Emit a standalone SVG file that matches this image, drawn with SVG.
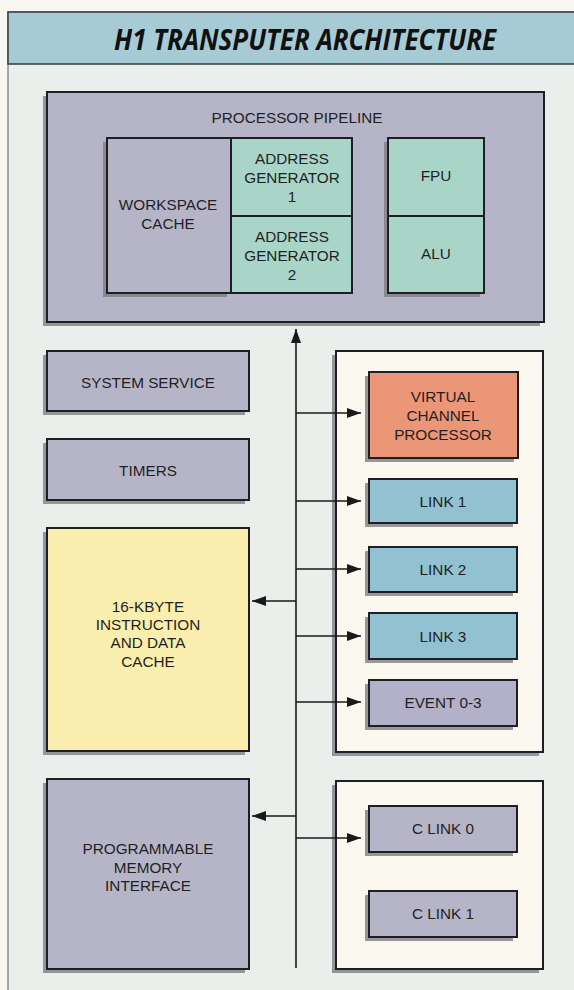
<svg xmlns="http://www.w3.org/2000/svg" width="574" height="990" viewBox="0 0 574 990">
<defs>
<marker id="ah" viewBox="0 0 14 10" refX="14" refY="5" markerWidth="14" markerHeight="10" markerUnits="userSpaceOnUse" orient="auto">
<path d="M0,0 L14,5 L0,10 Z" fill="#1a1a1a"/>
</marker>
</defs>
<style>
.box{stroke:#1e1e24;stroke-width:2}
.sh{fill:#7e7e84;opacity:0.8}
.grey{fill:#b6b5c8}
.mint{fill:#a9d5c9}
.blue{fill:#92c1d1}
.salmon{fill:#eb9677}
.yellow{fill:#f9eead}
.cream{fill:#fbf8ef}
.lav{fill:#b3b0c9}
.t{font-family:"Liberation Sans",Arial,sans-serif;font-size:15.3px;fill:#1f1f24;text-anchor:middle}
.c{stroke:#1a1a1a;stroke-width:1.3;fill:none}
</style>
<rect x="0" y="0" width="574" height="990" fill="#f8f7f2"/>
<rect x="8" y="12" width="570" height="990" fill="#eaefec" stroke="#5a5a5a" stroke-width="1"/>
<g id="header">
<rect x="8" y="12" width="570" height="52" fill="#a7cbd5" stroke="#3a3a40" stroke-width="1.5"/>
<text x="305" y="50" font-family="'Open Sans','DejaVu Sans',sans-serif" font-size="28" font-weight="bold" font-style="italic" fill="#111" text-anchor="middle" textLength="382" lengthAdjust="spacingAndGlyphs">H1 TRANSPUTER ARCHITECTURE</text>
</g>
<g id="pipeline">
<rect class="sh" x="43" y="96" width="497" height="230"/>
<rect class="box grey" x="47" y="92" width="497" height="230"/>
<text class="t" x="297" y="123">PROCESSOR PIPELINE</text>
</g>
<g id="workspace-cache">
<rect class="sh" x="103" y="142" width="124" height="155"/>
<rect class="box grey" x="107" y="138" width="124" height="155"/>
<text class="t" x="168" y="210">WORKSPACE</text>
<text class="t" x="168" y="229">CACHE</text>
</g>
<g id="addr-gen-1">
<rect class="box mint" x="231" y="138" width="121" height="78"/>
<text class="t" x="292" y="164">ADDRESS</text>
<text class="t" x="292" y="183">GENERATOR</text>
<text class="t" x="292" y="202">1</text>
</g>
<g id="addr-gen-2">
<rect class="box mint" x="231" y="216" width="121" height="77"/>
<text class="t" x="292" y="242">ADDRESS</text>
<text class="t" x="292" y="261">GENERATOR</text>
<text class="t" x="292" y="280">2</text>
</g>
<g id="fpu">
<rect class="sh" x="384" y="142" width="96" height="155"/>
<rect class="box mint" x="388" y="138" width="96" height="78"/>
<text class="t" x="436" y="181">FPU</text>
</g>
<g id="alu">
<rect class="box mint" x="388" y="216" width="96" height="77"/>
<text class="t" x="436" y="259">ALU</text>
</g>
<g id="system-service">
<rect class="sh" x="43" y="355" width="202" height="60"/>
<rect class="box grey" x="47" y="351" width="202" height="60"/>
<text class="t" x="148" y="388">SYSTEM SERVICE</text>
</g>
<g id="timers">
<rect class="sh" x="43" y="443" width="202" height="61"/>
<rect class="box grey" x="47" y="439" width="202" height="61"/>
<text class="t" x="148" y="476">TIMERS</text>
</g>
<g id="cache">
<rect class="sh" x="43" y="532" width="202" height="223"/>
<rect class="box yellow" x="47" y="528" width="202" height="223"/>
<text class="t" x="148" y="612">16-KBYTE</text>
<text class="t" x="148" y="630">INSTRUCTION</text>
<text class="t" x="148" y="648">AND DATA</text>
<text class="t" x="148" y="667">CACHE</text>
</g>
<g id="pmi">
<rect class="sh" x="43" y="783" width="202" height="190"/>
<rect class="box grey" x="47" y="779" width="202" height="190"/>
<text class="t" x="148" y="854">PROGRAMMABLE</text>
<text class="t" x="148" y="873">MEMORY</text>
<text class="t" x="148" y="891">INTERFACE</text>
</g>
<g id="link-container">
<rect class="sh" x="332" y="355" width="207" height="401"/>
<rect class="box cream" x="336" y="351" width="207" height="401"/>
</g>
<g id="vcp">
<rect class="sh" x="365" y="376" width="149" height="86"/>
<rect class="box salmon" x="369" y="372" width="149" height="86"/>
<text class="t" x="443" y="402">VIRTUAL</text>
<text class="t" x="443" y="421">CHANNEL</text>
<text class="t" x="443" y="440">PROCESSOR</text>
</g>
<g id="link1">
<rect class="sh" x="365" y="483" width="148" height="44"/>
<rect class="box blue" x="369" y="479" width="148" height="44"/>
<text class="t" x="443" y="507">LINK 1</text>
</g>
<g id="link2">
<rect class="sh" x="365" y="551" width="148" height="45"/>
<rect class="box blue" x="369" y="547" width="148" height="45"/>
<text class="t" x="443" y="575">LINK 2</text>
</g>
<g id="link3">
<rect class="sh" x="365" y="617" width="148" height="46"/>
<rect class="box blue" x="369" y="613" width="148" height="46"/>
<text class="t" x="443" y="642">LINK 3</text>
</g>
<g id="event">
<rect class="sh" x="365" y="684" width="148" height="46"/>
<rect class="box lav" x="369" y="680" width="148" height="46"/>
<text class="t" x="443" y="708">EVENT 0-3</text>
</g>
<g id="clink-container">
<rect class="sh" x="332" y="785" width="207" height="188"/>
<rect class="box cream" x="336" y="781" width="207" height="188"/>
</g>
<g id="clink0">
<rect class="sh" x="365" y="810" width="148" height="46"/>
<rect class="box grey" x="369" y="806" width="148" height="46"/>
<text class="t" x="443" y="834">C LINK 0</text>
</g>
<g id="clink1">
<rect class="sh" x="365" y="895" width="148" height="46"/>
<rect class="box grey" x="369" y="891" width="148" height="46"/>
<text class="t" x="443" y="919">C LINK 1</text>
</g>
<g id="connectors">
<line class="c" x1="296" y1="968" x2="296" y2="329" marker-end="url(#ah)" style="stroke-width:1.6"/>
<line class="c" x1="296" y1="413" x2="361" y2="413" marker-end="url(#ah)"/>
<line class="c" x1="296" y1="501" x2="361" y2="501" marker-end="url(#ah)"/>
<line class="c" x1="296" y1="569" x2="361" y2="569" marker-end="url(#ah)"/>
<line class="c" x1="296" y1="636" x2="361" y2="636" marker-end="url(#ah)"/>
<line class="c" x1="296" y1="702" x2="361" y2="702" marker-end="url(#ah)"/>
<line class="c" x1="296" y1="838" x2="361" y2="838" marker-end="url(#ah)"/>
<line class="c" x1="296" y1="601" x2="252" y2="601" marker-end="url(#ah)"/>
<line class="c" x1="296" y1="816" x2="252" y2="816" marker-end="url(#ah)"/>
</g>
</svg>
